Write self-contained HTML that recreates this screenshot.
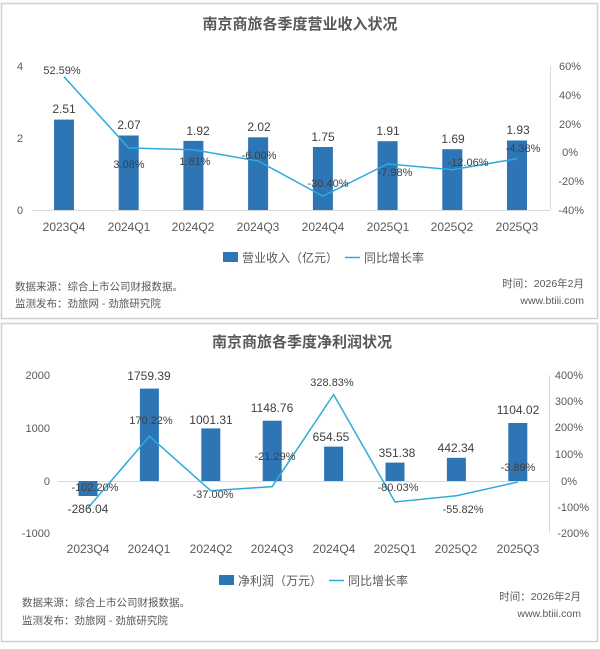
<!DOCTYPE html>
<html><head><meta charset="utf-8"><style>
body{margin:0;background:#fff;}
svg text{font-family:"Liberation Sans","Noto Sans CJK SC",sans-serif;}
</style></head><body>
<svg width="600" height="644" viewBox="0 0 600 644" xmlns="http://www.w3.org/2000/svg">
<rect x="0" y="0" width="600" height="644" fill="#fff"/>
<rect x="1.5" y="3.5" width="596" height="315" fill="#fff" stroke="#d0d0d0" stroke-width="1.5"/>
<text x="300" y="29" font-size="15" font-weight="bold" fill="#595959" text-anchor="middle">南京商旅各季度营业收入状况</text>
<line x1="32" y1="210.5" x2="550" y2="210.5" stroke="#d9d9d9"/>
<line x1="550.5" y1="66" x2="550.5" y2="210" stroke="#d9d9d9"/>
<g font-size="11" fill="#595959">
<text x="20" y="70" text-anchor="middle">4</text>
<text x="20" y="142" text-anchor="middle">2</text>
<text x="20" y="214" text-anchor="middle">0</text>
<g text-anchor="end"><text x="581" y="70">60%</text><text x="581" y="99">40%</text><text x="581" y="128">20%</text><text x="578" y="156">0%</text><text x="584" y="185">-20%</text><text x="584" y="214">-40%</text></g>
</g>
<g fill="#2e75b6">
<rect x="54" y="119.6" width="20" height="90.4"/>
<rect x="118.7" y="135.5" width="20" height="74.5"/>
<rect x="183.4" y="140.9" width="20" height="69.1"/>
<rect x="248.1" y="137.3" width="20" height="72.7"/>
<rect x="312.9" y="147" width="20" height="63"/>
<rect x="377.6" y="141.2" width="20" height="68.8"/>
<rect x="442.3" y="149.2" width="20" height="60.8"/>
<rect x="507" y="140.5" width="20" height="69.5"/>
</g>
<polyline fill="none" stroke="#2eaadc" stroke-width="1.5" points="64,76.7 128.7,148 193.4,149.8 258.1,161 322.9,196.2 387.6,163.9 452.3,169.8 517,158.7"/>
<g font-size="12" fill="#404040" text-anchor="middle">
<text x="64" y="113">2.51</text><text x="129" y="129">2.07</text><text x="198" y="135">1.92</text><text x="259" y="131">2.02</text><text x="323" y="141">1.75</text><text x="388" y="135">1.91</text><text x="453" y="143">1.69</text><text x="518" y="134">1.93</text>
</g>
<g font-size="11" fill="#404040" text-anchor="middle">
<text x="62" y="74">52.59%</text><text x="129" y="168">3.08%</text><text x="195" y="165">1.81%</text><text x="259" y="159">-6.00%</text><text x="328" y="187">-30.40%</text><text x="395" y="176">-7.98%</text><text x="468" y="166">-12.06%</text><text x="523" y="152">-4.38%</text>
</g>
<g font-size="12" fill="#595959" text-anchor="middle">
<text x="64" y="231">2023Q4</text><text x="129" y="231">2024Q1</text><text x="193" y="231">2024Q2</text><text x="258" y="231">2024Q3</text><text x="323" y="231">2024Q4</text><text x="388" y="231">2025Q1</text><text x="452" y="231">2025Q2</text><text x="517" y="231">2025Q3</text>
</g>
<rect x="223" y="252" width="15" height="10" fill="#2e75b6"/>
<text x="242" y="262" font-size="12" fill="#595959">营业收入（亿元）</text>
<line x1="345" y1="257.5" x2="360" y2="257.5" stroke="#2eaadc" stroke-width="1.5"/>
<text x="364" y="262" font-size="12" fill="#595959">同比增长率</text>
<g font-size="10.5" fill="#595959">
<text x="15" y="290">数据来源：综合上市公司财报数据。</text>
<text x="15" y="307">监测发布：劲旅网 - 劲旅研究院</text>
<text x="584" y="287" text-anchor="end">时间：2026年2月</text>
<text x="584" y="304" text-anchor="end">www.btiii.com</text>
</g>
<rect x="1.5" y="323.5" width="596" height="318" fill="#fff" stroke="#d0d0d0" stroke-width="1.5"/>
<text x="302" y="347" font-size="15" font-weight="bold" fill="#595959" text-anchor="middle">南京商旅各季度净利润状况</text>
<line x1="58" y1="481.5" x2="549" y2="481.5" stroke="#d9d9d9"/>
<line x1="549.5" y1="375" x2="549.5" y2="533" stroke="#d9d9d9"/>
<g font-size="11" fill="#595959" text-anchor="end">
<text x="50" y="379">2000</text><text x="50" y="432">1000</text><text x="50" y="485">0</text><text x="50" y="537">-1000</text>
<text x="583" y="379">400%</text><text x="583" y="405">300%</text><text x="583" y="431">200%</text><text x="583" y="458">100%</text><text x="577" y="485">0%</text><text x="589" y="511">-100%</text><text x="589" y="537">-200%</text>
</g>
<g fill="#2e75b6">
<rect x="78.5" y="481" width="19" height="15"/>
<rect x="139.9" y="388.6" width="19" height="92.4"/>
<rect x="201.3" y="428.4" width="19" height="52.6"/>
<rect x="262.7" y="420.7" width="19" height="60.3"/>
<rect x="324.1" y="446.6" width="19" height="34.4"/>
<rect x="385.5" y="462.6" width="19" height="18.4"/>
<rect x="446.9" y="457.8" width="19" height="23.2"/>
<rect x="508.3" y="423" width="19" height="58"/>
</g>
<polyline fill="none" stroke="#2eaadc" stroke-width="1.5" points="88,507.9 149.4,436.2 210.8,490.7 272.2,486.6 333.6,394.5 395,502 456.4,495.7 517.8,482"/>
<g font-size="12" fill="#404040" text-anchor="middle">
<text x="88" y="513">-286.04</text><text x="149" y="380">1759.39</text><text x="211" y="424">1001.31</text><text x="272" y="412">1148.76</text><text x="331" y="441">654.55</text><text x="397" y="457">351.38</text><text x="456" y="452">442.34</text><text x="518" y="414">1104.02</text>
</g>
<g font-size="11" fill="#404040" text-anchor="middle">
<text x="95" y="491">-102.20%</text><text x="151" y="424">170.22%</text><text x="213" y="498">-37.00%</text><text x="275" y="460">-21.29%</text><text x="332" y="386">328.83%</text><text x="398" y="491">-80.03%</text><text x="463" y="513">-55.82%</text><text x="518" y="471">-3.89%</text>
</g>
<g font-size="12" fill="#595959" text-anchor="middle">
<text x="88" y="553">2023Q4</text><text x="149" y="553">2024Q1</text><text x="211" y="553">2024Q2</text><text x="272" y="553">2024Q3</text><text x="334" y="553">2024Q4</text><text x="395" y="553">2025Q1</text><text x="456" y="553">2025Q2</text><text x="518" y="553">2025Q3</text>
</g>
<rect x="219" y="575" width="15" height="10" fill="#2e75b6"/>
<text x="238" y="585" font-size="12" fill="#595959">净利润（万元）</text>
<line x1="329" y1="580.5" x2="344" y2="580.5" stroke="#2eaadc" stroke-width="1.5"/>
<text x="348" y="585" font-size="12" fill="#595959">同比增长率</text>
<g font-size="10.5" fill="#595959">
<text x="22" y="606">数据来源：综合上市公司财报数据。</text>
<text x="22" y="624">监测发布：劲旅网 - 劲旅研究院</text>
<text x="581" y="600" text-anchor="end">时间：2026年2月</text>
<text x="581" y="617" text-anchor="end">www.btiii.com</text>
</g>
</svg>
</body></html>
